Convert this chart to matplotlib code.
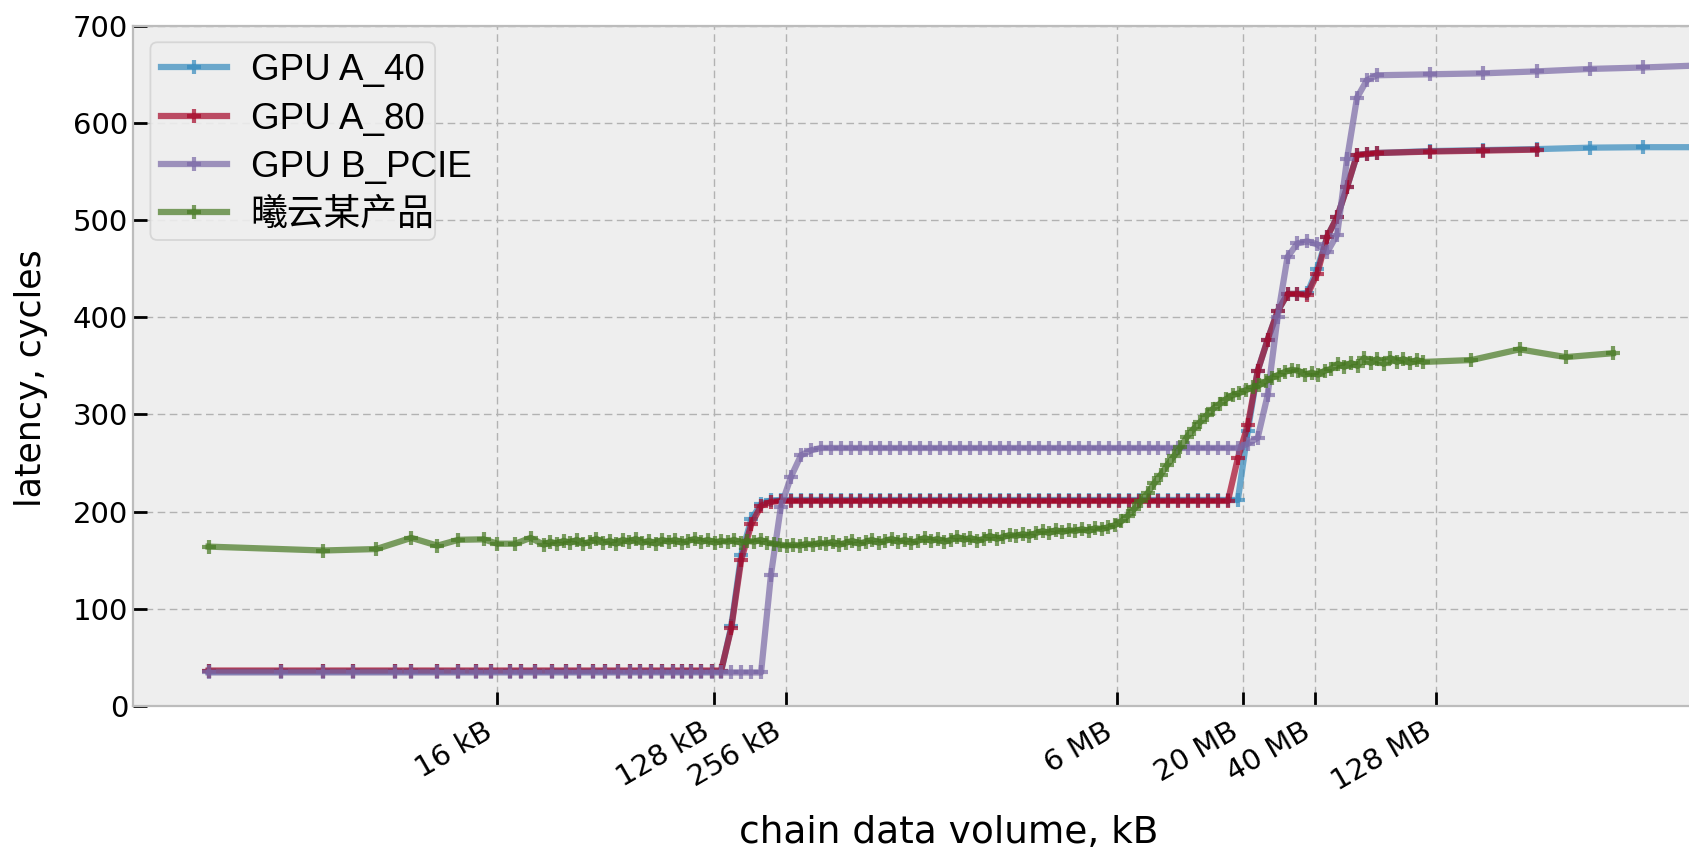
import matplotlib
matplotlib.use('Agg')
import matplotlib.pyplot as plt
from matplotlib.ticker import NullLocator
from matplotlib.font_manager import FontProperties
from matplotlib.patches import FancyBboxPatch
from matplotlib.transforms import IdentityTransform

plt.style.use('bmh')

# ---------------- data ----------------
series_labels = ['GPU A_40', 'GPU A_80', 'GPU B_PCIE', '曦云某产品']

# chain data volume (kB) sampled for the three GPU series
x_gpu = [1, 2, 3, 4, 6, 7, 9, 11, 13, 15, 18, 20, 23, 27, 31, 35, 40, 45, 51, 57,
         63, 70, 78, 86, 94, 103, 113, 125, 137, 151, 166, 183, 201, 221, 243, 268,
         295, 324, 357, 392, 432, 475, 522, 575, 632, 695, 765, 841, 925, 1018, 1120,
         1232, 1355, 1490, 1639, 1803, 1984, 2182, 2400, 2640, 2904, 3195, 3514, 3866,
         4252, 4678, 5145, 5660, 6226, 6848, 7533, 8287, 9115, 10027, 11030, 12133,
         13346, 14680, 16148, 17763, 19540, 21494, 23643, 26007, 28608, 31469, 34616,
         38077, 41885, 46073, 50681, 55749, 61323, 67456, 74201, 124000, 206000,
         344000, 573000, 955000, 1590000]

y_a40 = ([35.5] * 29 +
         [82, 155, 192, 208, 211.5] +
         [212] * 47 +
         [283, 345, 377, 406, 424, 424, 425, 450, 483, 503, 534, 567, 568, 569,
          571, 572, 573, 574.5, 575, 575])

y_a80 = ([36.5] * 29 +
         [80, 150, 187, 206, 210] +
         [211] * 46 +
         [255, 289, 345, 377, 406, 424, 424, 423, 445, 483, 503, 534, 567, 568, 569,
          570.5, 571.5, 572.5])

y_bpcie = ([34.5] * 33 +
           [135, 205, 236, 258, 263] +
           [265.5] * 43 +
           [270, 276, 320, 400, 462, 476, 478, 475, 467, 485, 563, 626, 644, 649,
            650, 651, 653, 655.5, 657, 659])

# chain data volume (kB) sampled for the 曦云 product
x_green = [1, 3, 5, 7, 9, 11, 14, 16, 19, 22,
           25, 26.6, 28.4, 30.2, 32.2, 34.3, 36.5, 38.9, 41.4, 44.1, 47, 50, 53.3,
           56.7, 60.4, 64.4, 68.5, 73, 77.7, 82.8, 88.2, 93.9, 100, 106.5, 113.4,
           120.8, 128.7, 137, 146, 155.4, 165.5, 176.3, 187.8, 200, 213, 226.8,
           241.6, 257.3, 274, 291.8, 310.8, 331, 352.5, 375.4, 399.8, 425.8, 453.5,
           483, 514.4, 547.8, 583.4, 621.3, 661.7, 704.7, 750.5, 799.3, 851.3, 906.6,
           965.5, 1028, 1095, 1166, 1242, 1323, 1409, 1500, 1598, 1702, 1812, 1930,
           2055, 2189, 2331, 2483, 2644, 2816, 2999, 3194, 3402, 3623, 3858, 4109,
           4376, 4661, 4964, 5286, 5630, 5996, 6386, 6801, 7243, 7713, 8215, 8749,
           9317, 9923, 10568, 11255, 11986, 12765, 13595, 14479, 15420, 16422,
           17490, 18627, 19837, 21127, 22500, 23963, 25520, 27179, 28946, 30827,
           32831, 34965, 37238, 39658, 42236, 44981, 47905, 51019, 54335, 57867,
           61628, 65634, 69900, 74444, 79283, 84436, 89925, 95770, 101995, 108624,
           115685, 184000, 292000, 455000, 715000]

y_green = [164, 160, 161.5, 173, 165, 171, 171.5, 167, 167, 173,
           166, 169, 167, 170, 168, 171, 167, 169, 172, 168, 170, 167, 171,
           169, 172, 168, 170, 167, 171, 169, 171, 168, 170, 172, 169,
           171, 168, 170, 169, 171, 168, 170, 169, 171, 168, 167,
           166, 165, 166, 165, 167, 166, 168, 167, 169, 166, 168,
           170, 167, 169, 171, 168, 170, 172, 169, 171, 168, 170,
           173, 170, 172, 169, 171, 174, 171, 173, 170, 172, 175, 172,
           174, 176, 175, 177, 175, 178, 180, 178, 181, 179, 181, 180,
           182, 180, 183, 182, 184, 186, 190, 196, 203, 211, 219, 229,
           238, 248, 257, 266, 277, 285, 292, 299, 306, 311,
           316, 320, 322, 325, 328, 330, 334, 338, 341, 344,
           346, 345, 341, 343, 341, 345, 347, 352, 349, 353,
           350, 358, 353, 357, 352, 358, 354, 357, 353, 356,
           354, 356, 367, 359, 363]

tick_values = [16, 128, 256, 6144, 20480, 40960, 131072]
tick_labels = ['16 kB', '128 kB', '256 kB', '6 MB', '20 MB', '40 MB', '128 MB']

colors = ['#348ABD', '#A60628', '#7A68A6', '#467821']

# ---------------- figure ----------------
W, H = 1689, 850
fig = plt.figure(figsize=(W / 100, H / 100), dpi=100)
ax_left, ax_right, ax_bottom, ax_top = 133, 1775, 706, 25.7
ax = fig.add_axes([ax_left / W, (H - ax_bottom) / H,
                   (ax_right - ax_left) / W, (ax_bottom - ax_top) / H])

kw = dict(marker='+', linewidth=4.5, markersize=10, markeredgewidth=3, alpha=0.7)
ax.plot(x_gpu[:len(y_a40)], y_a40, color=colors[0], label=series_labels[0], **kw)
ax.plot(x_gpu[:len(y_a80)], y_a80, color=colors[1], label=series_labels[1], **kw)
ax.plot(x_gpu[:len(y_bpcie)], y_bpcie, color=colors[2], label=series_labels[2], **kw)
ax.plot(x_green, y_green, color=colors[3], label=series_labels[3], **kw)

ax.set_xscale('log', base=2)
ax.set_xlim(0.484, 3.39e6)
ax.set_ylim(0, 700)
ax.set_xticks(tick_values, tick_labels, rotation=30, ha='right')
ax.xaxis.set_minor_locator(NullLocator())
ax.set_yticks([0, 100, 200, 300, 400, 500, 600, 700])

ax.tick_params(axis='both', which='major', direction='in', length=10, width=2,
               color='black', labelcolor='black', labelsize=21)
ax.tick_params(axis='x', pad=8)

ax.grid(True, color='#b2b2b2', linestyle=(0, (5.5, 3.2)), linewidth=1.0)
for sp in ax.spines.values():
    sp.set_color('#bcbcbc')
    sp.set_linewidth(1.6)

ax.set_xlabel('chain data volume, kB', fontsize=27, color='black')
ax.set_ylabel('latency, cycles', fontsize=25, color='black')
ax.xaxis.set_label_coords(0.497, -0.160)
ax.yaxis.set_label_coords(-0.052, 0.482)

# legend frame (drawn separately, as in the reference the labels overflow it)
frame = FancyBboxPatch((150.4, H - 240.0), 284.7, 197.7,
                       boxstyle='round,pad=0,rounding_size=7',
                       transform=IdentityTransform(),
                       facecolor='#eeeeee', edgecolor='#d4d4d4', linewidth=1.3,
                       alpha=0.9, zorder=4.5)
ax.add_artist(frame)

leg = ax.legend(loc='upper left',
                prop=FontProperties(family=['Liberation Sans', 'Noto Sans CJK SC'], size=26.5),
                handlelength=1.8, handletextpad=0.65, borderpad=0.3,
                labelspacing=0.36, borderaxespad=0.45, frameon=False)
leg.set_zorder(5)

fig.savefig('out.png', dpi=100)
